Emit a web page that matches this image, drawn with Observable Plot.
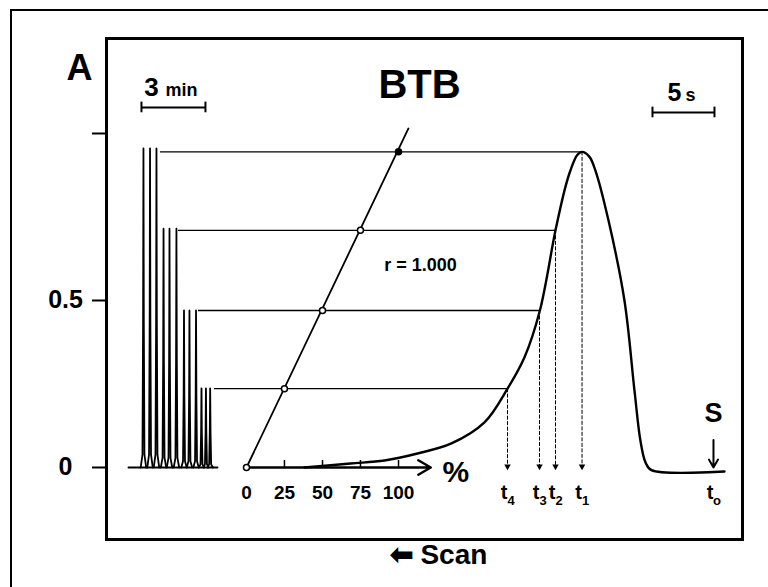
<!DOCTYPE html>
<html><head><meta charset="utf-8">
<script src="https://cdn.jsdelivr.net/npm/d3@7"></script>
<script src="https://cdn.jsdelivr.net/npm/@observablehq/plot@0.6"></script>
<style>
html,body{margin:0;padding:0;background:#fff;overflow:hidden;width:768px;height:587px;}
#wrap{position:relative;width:768px;height:587px;}
#outer{position:absolute;left:10px;top:9px;width:900px;height:900px;border-left:2.5px solid #000;border-top:2.5px solid #000;}
#chart{position:absolute;left:0;top:0;}
</style></head><body>
<div id="wrap"><div id="outer"></div><div id="chart"></div></div>
<script>
// ---- data (x in seconds before t0, scan runs right-to-left; y in absorbance) ----
const yTicks = [0, 0.5, 1];
const yTickLabels = ["0", "0.5", ""];

// calibration levels (100, 75, 50, 25 % of peak height)
const levels = [0.945, 0.71, 0.47, 0.236];
const levelStart = [44.6, 43.15, 41.53, 40.24];
const tSubs = ["1", "2", "3", "4"];
const tTimes = [10.6, 12.74, 14.03, 16.61];
const t0Sub = "o";
const t0Time = 0;

// percent axis of the calibration plot
const pctTicks = [0, 25, 50, 75, 100];
const pctX = [37.66, 34.6, 31.53, 28.47, 25.4];
const pctArrowEnd = 22.8;
const calibLineX = [37.66, 24.6];
const calibLineY = [0, 1.015];

// repetitive injections (spikes)
const spikeX = [45.97, 45.44, 44.92, 44.35, 43.87, 43.31, 42.70, 42.26, 41.73, 41.29, 40.93, 40.59];
const spikeH = [0.955, 0.955, 0.955, 0.715, 0.715, 0.715, 0.47, 0.47, 0.47, 0.237, 0.237, 0.237];
const spikeBaseX = [47.18, 40.0];

// single scanned peak
const peakX = [33.0, 29.27, 26.53, 23.87, 21.13, 18.47, 16.61, 15.24, 14.0, 12.74, 11.94, 11.53, 11.0, 10.6, 10.0, 9.52, 8.47, 7.18, 6.37, 5.89, 5.48, 5.0, -0.89];
const peakY = [0, 0.012, 0.021, 0.042, 0.072, 0.135, 0.236, 0.33, 0.47, 0.71, 0.84, 0.89, 0.935, 0.945, 0.93, 0.889, 0.74, 0.50, 0.23, 0.08, 0.015, -0.008, -0.012];

// scale bars
const bar3min = [46.13, 40.97];
const bar3minY = 1.078;
const bar5s = [4.92, -0.08];
const bar5sY = 1.063;

// ---- build ----
const font = "'Liberation Sans', Arial, Helvetica, sans-serif";
const shapeDx = [-0.22, -0.08, -0.03, 0, 0.03, 0.08, 0.22];
const shapeF = [0, 0.04, 0.45, 1, 0.45, 0.04, 0];
const spikePts = [];
spikeX.forEach((c, i) => shapeDx.forEach((dx, j) => spikePts.push({x: c + dx, y: spikeH[i] * shapeF[j], k: i})));
const peak = peakX.map((x, i) => ({x, y: peakY[i]}));
const calib = calibLineX.map((x, i) => ({x, y: calibLineY[i]}));
const calibDots = pctX.map((x, i) => ({x, y: i === 0 ? 0 : levels[4 - i], full: i === 4}));
const tAll = tTimes.map((t, i) => ({t, sub: tSubs[i]})).concat([{t: t0Time, sub: t0Sub}]);

const B = {fontWeight: "bold", fill: "black"};

const chart = Plot.plot({
  width: 768, height: 587,
  marginLeft: 106, marginRight: 26, marginTop: 38, marginBottom: 48,
  style: {fontFamily: font, background: "transparent", overflow: "visible"},
  x: {domain: [48.95, -2.34], axis: null},
  y: {domain: [-0.2156, 1.2844], axis: null},
  marks: [
    Plot.frame({strokeWidth: 3}),
    Plot.axisY({ticks: yTicks, tickFormat: d => yTickLabels[yTicks.indexOf(d)], tickSize: 14, tickPadding: 27,
      textAnchor: "middle", fontSize: 25, fontWeight: "bold", strokeWidth: 2, label: null}),
    // spikes
    Plot.line(spikeBaseX, {x: d => d, y: () => 0, strokeWidth: 1.8}),
    Plot.line(spikePts, {x: "x", y: "y", z: "k", strokeWidth: 1.8}),
    // horizontal level lines
    Plot.ruleY(levels, {y: d => d, x1: (d, i) => levelStart[i], x2: (d, i) => tTimes[i], strokeWidth: 1.4}),
    // vertical dashed projection lines
    Plot.ruleX(tTimes, {x: d => d, y1: (d, i) => levels[i], y2: () => 0, strokeWidth: 1, strokeDasharray: "4,1.5"}),
    Plot.dot(tTimes, {x: d => d, y: () => 0, dy: -1, symbol: "triangle", rotate: 180, r: 2.4, fill: "black"}),
    Plot.text(tAll, {x: "t", y: () => 0, dx: -3.5, dy: 25, text: () => "t", fontSize: 20, ...B}),
    Plot.text(tAll, {x: "t", y: () => 0, dx: 3.5, dy: 33, text: "sub", fontSize: 13, ...B}),
    // peak
    Plot.line(peak, {x: "x", y: "y", curve: "catmull-rom", strokeWidth: 2.4}),
    // calibration plot
    Plot.line(calib, {x: "x", y: "y", strokeWidth: 1.8}),
    Plot.arrow([0], {x1: () => pctX[0], y1: () => 0, x2: () => pctArrowEnd, y2: () => 0, strokeWidth: 2.4, headLength: 9}),
    Plot.ruleX(pctX.slice(1), {x: d => d, y1: () => 0, y2: () => 0.021, strokeWidth: 1.5}),
    Plot.text(pctTicks, {x: (d, i) => pctX[i], y: () => 0, dy: 25, text: d => String(d), fontSize: 19, ...B}),
    Plot.text(["%"], {x: () => pctArrowEnd, y: () => 0, dx: 25, dy: 5, fontSize: 30, ...B}),
    Plot.dot(calibDots, {x: "x", y: "y", r: 3, stroke: "black", strokeWidth: 1.5, fill: d => d.full ? "black" : "white"}),
    Plot.text(["r = 1.000"], {x: () => 23.63, y: () => 0.605, fontSize: 18, ...B}),
    // start marker
    Plot.arrow([0], {x1: () => t0Time, y1: () => 0.082, x2: () => t0Time, y2: () => 0.0, strokeWidth: 2, headLength: 8}),
    Plot.text(["S"], {x: () => t0Time, y: () => 0, dy: -54, fontSize: 27, ...B}),
    // scale bars
    Plot.ruleY([bar3minY], {y: d => d, x1: () => bar3min[0], x2: () => bar3min[1], strokeWidth: 2}),
    Plot.ruleX(bar3min, {x: d => d, y1: () => bar3minY - 0.016, y2: () => bar3minY + 0.016, strokeWidth: 2}),
    Plot.text(["3"], {x: () => bar3min[0], y: () => bar3minY, dx: 10, dy: -20, fontSize: 26, ...B}),
    Plot.text(["min"], {x: () => bar3min[0], y: () => bar3minY, dx: 40, dy: -17, fontSize: 18, ...B}),
    Plot.ruleY([bar5sY], {y: d => d, x1: () => bar5s[0], x2: () => bar5s[1], strokeWidth: 2}),
    Plot.ruleX(bar5s, {x: d => d, y1: () => bar5sY - 0.016, y2: () => bar5sY + 0.016, strokeWidth: 2}),
    Plot.text(["5"], {x: () => bar5s[0], y: () => bar5sY, dx: 22, dy: -19, fontSize: 25, ...B}),
    Plot.text(["s"], {x: () => bar5s[0], y: () => bar5sY, dx: 38, dy: -17, fontSize: 18, ...B}),
    // titles
    Plot.text(["A"], {frameAnchor: "top-left", dx: -40, dy: 16, fontSize: 36, ...B}),
    Plot.text(["BTB"], {frameAnchor: "top", dx: -5, dy: 31, fontSize: 40, ...B}),
    Plot.text(["⬅ Scan"], {frameAnchor: "bottom", dx: 14, dy: 24, fontSize: 28, ...B})
  ]
});
document.getElementById("chart").appendChild(chart);
</script>
</body></html>
